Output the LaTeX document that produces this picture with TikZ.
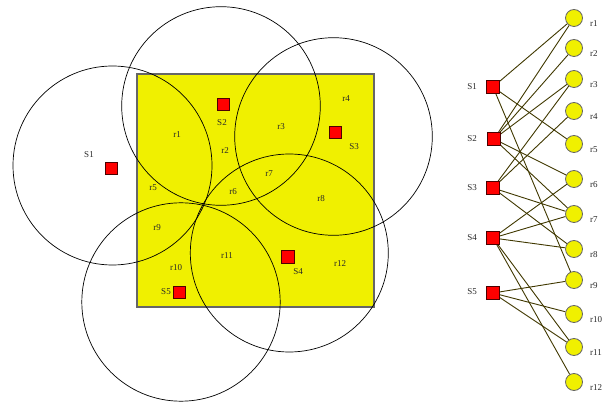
\documentclass[tikz,border=0pt]{standalone}
\usepackage{fontspec}
\setmainfont{Liberation Serif}
\definecolor{areayellow}{RGB}{240,240,0}
\definecolor{edgeolive}{RGB}{64,56,0}
\definecolor{sqred}{RGB}{255,0,0}
\definecolor{txtgray}{RGB}{40,40,40}
\begin{document}
\begin{tikzpicture}[x=1pt,y=-1pt,
  lbl/.style={font=\fontsize{9}{10}\selectfont, text=txtgray, inner sep=0pt},
  sensor/.style={draw=black!70!red, fill=sqred, line width=0.8pt, minimum size=12.5pt, inner sep=0pt},
  region/.style={draw=black!60, fill=areayellow, line width=0.8pt, circle, minimum size=17pt, inner sep=0pt},
  coverring/.style={draw=black, line width=0.7pt},
  link/.style={draw=edgeolive, line width=0.9pt}]
\useasboundingbox (0,0) rectangle (613,403);
% area
\fill[areayellow, draw=black!60, line width=1.1pt] (137,74) rectangle (374,307);
% coverage circles
\draw[coverring] (112.5,165.5) circle[radius=99.5pt];
\draw[coverring] (221,106) circle[radius=99.3pt];
\draw[coverring] (333.5,136.5) circle[radius=98.8pt];
\draw[coverring] (289.3,253) circle[radius=99pt];
\draw[coverring] (181,302) circle[radius=99.2pt];
% sensors (left)
\node[sensor] (lS1) at (111.5,168.5) {};
\node[sensor] (lS2) at (223.5,104.5) {};
\node[sensor] (lS3) at (335.5,132.5) {};
\node[sensor] (lS4) at (288,257) {};
\node[sensor] (lS5) at (179.5,292.5) {};
\node[lbl] (tS1) at (89,155) {S1};
\node[lbl] (tS2) at (222,123) {S2};
\node[lbl] (tS3) at (354,147) {S3};
\node[lbl] (tS4) at (298,272) {S4};
\node[lbl] (tS5) at (166,292) {S5};
% region labels (left)
\node[lbl] (lr1) at (177,135) {r1};
\node[lbl] (lr2) at (225,151) {r2};
\node[lbl] (lr3) at (281,127) {r3};
\node[lbl] (lr4) at (346,99) {r4};
\node[lbl] (lr5) at (153,188) {r5};
\node[lbl] (lr6) at (233,192) {r6};
\node[lbl] (lr7) at (269,174) {r7};
\node[lbl] (lr8) at (321,199) {r8};
\node[lbl] (lr9) at (157,228) {r9};
\node[lbl] (lr10) at (176,268) {r10};
\node[lbl] (lr11) at (227,256) {r11};
\node[lbl] (lr12) at (340,264) {r12};
% bipartite graph (right)
\node[sensor] (S1) at (493,87) {};
\node[sensor] (S2) at (494,139) {};
\node[sensor] (S3) at (493,188) {};
\node[sensor] (S4) at (493,238) {};
\node[sensor] (S5) at (493,293) {};
\foreach \i/\y in {1/18,2/48,3/79,4/111,5/144,6/179,7/214,8/249,9/280,10/314,11/347,12/382}{
  \node[region] (r\i) at (574,\y) {};
  \node[lbl, anchor=west] (t\i) at (590,\y+6) {r\i};
}
\node[lbl] (gS1) at (472,87) {S1};
\node[lbl] (gS2) at (472,139) {S2};
\node[lbl] (gS3) at (472,188) {S3};
\node[lbl] (gS4) at (472,238) {S4};
\node[lbl] (gS5) at (472,292) {S5};
\foreach \s/\r in {1/1,1/5,1/9,2/1,2/2,2/3,2/6,2/7,3/3,3/4,3/7,3/8,4/6,4/7,4/8,4/11,4/12,5/9,5/10,5/11}{
  \draw[link] (S\s.center) -- (r\r);
}
% redraw sensor squares on top of the links
\foreach \i in {1,...,5}{
  \node[sensor] at (S\i) {};
}
\end{tikzpicture}
\end{document}
